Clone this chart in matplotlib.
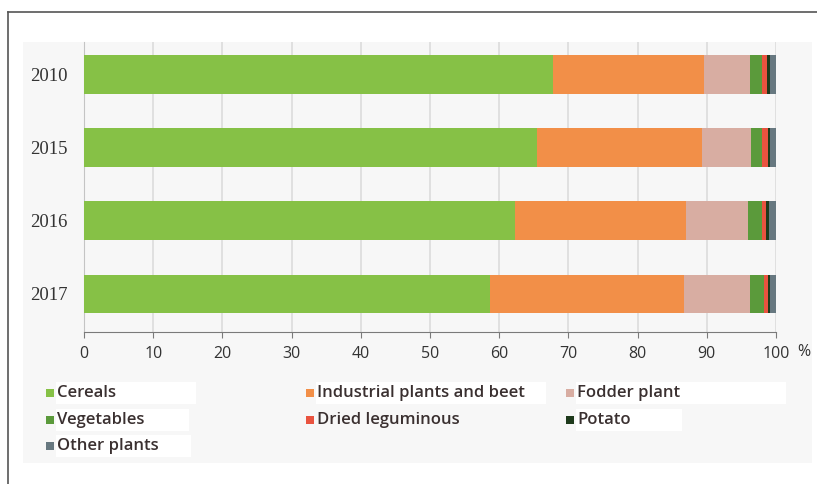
import matplotlib.pyplot as plt
from matplotlib.patches import Rectangle
from matplotlib.lines import Line2D

# Share of sown area by crop group, %
years = ['2010', '2015', '2016', '2017']
crops = ['Cereals', 'Industrial plants and beet', 'Fodder plant', 'Vegetables',
         'Dried leguminous', 'Potato', 'Other plants']
cereals = [67.8, 65.5, 62.3, 58.7]
industrial = [21.8, 23.8, 24.7, 28.0]
fodder = [6.7, 7.1, 8.9, 9.5]
vegetables = [1.7, 1.6, 2.1, 2.1]
dried_leguminous = [0.7, 0.8, 0.6, 0.5]
potato = [0.4, 0.3, 0.4, 0.3]
other = [0.9, 0.9, 1.0, 0.9]
series = [cereals, industrial, fodder, vegetables, dried_leguminous, potato, other]
colors = ['#86c146', '#f28f48', '#d8ada2', '#5b9a3b', '#e9533f', '#1e3a1c', '#677880']
xticks = list(range(0, 101, 10))

W, H = 817, 484
fig = plt.figure(figsize=(W / 100, H / 100), dpi=100)
fig.patch.set_facecolor('white')


def fx(px):
    return px / W


def fy(py):
    return 1 - py / H


# light panel behind chart and legend
fig.patches.append(Rectangle((fx(23), fy(463)), fx(812 - 23), (463 - 42) / H,
                             transform=fig.transFigure, facecolor='#f7f7f7',
                             edgecolor='none', zorder=-5))
# outer frame, top and left
fig.add_artist(Line2D([fx(8), 1], [fy(12), fy(12)], transform=fig.transFigure,
                      color='#555555', lw=1.2))
fig.add_artist(Line2D([fx(8), fx(8)], [0, fy(12)], transform=fig.transFigure,
                      color='#555555', lw=1.2))

ax = fig.add_axes([fx(84), fy(332), fx(776 - 84), (332 - 42) / H])
ax.set_facecolor('none')

ypos = list(range(len(years)))
left = [0.0] * len(years)
for vals, col, name in zip(series, colors, crops):
    ax.barh(ypos, vals, left=left, height=0.53, color=col, label=name, zorder=3)
    left = [a + b for a, b in zip(left, vals)]

tick_font = dict(family='Open Sans', fontsize=11.5, color='#333333')
ax.set_xlim(0, 100)
ax.set_ylim(3.52, -0.44)
ax.set_xticks(xticks)
ax.set_xticklabels([str(v) for v in xticks], **tick_font)
ax.annotate('%', xy=(100, 0), xycoords=('data', 'axes fraction'), xytext=(15, -9),
            textcoords='offset points', ha='left', va='top', annotation_clip=False,
            **tick_font)
ax.set_yticks(ypos)
ax.set_yticklabels(years, family='Liberation Serif', fontsize=13.5, color='#333333')

ax.grid(axis='x', color='#dcdcdc', lw=1.2, zorder=0)
for s in ['top', 'right']:
    ax.spines[s].set_visible(False)
ax.spines['left'].set_color('#c4c4c4')
ax.spines['bottom'].set_color('#7a7a7a')
ax.tick_params(axis='x', length=4, color='#7a7a7a', pad=6)
ax.tick_params(axis='y', length=0, pad=12)

# legend drawn as colored squares with text on white boxes
legend_items = [
    (50, 393, 0, 196), (310, 393, 1, 546), (570, 393, 2, 786),
    (50, 420, 3, 189), (310, 420, 4, None), (570, 420, 5, 682),
    (50, 446, 6, 191),
]
for x, y, i, box_end in legend_items:
    if box_end is not None:
        fig.patches.append(Rectangle((fx(x + 6), fy(y + 11)), fx(box_end - x - 6), 22 / H,
                                     transform=fig.transFigure, facecolor='white',
                                     edgecolor='none', zorder=-4))
    fig.patches.append(Rectangle((fx(x - 4), fy(y + 4)), fx(8), 8 / H,
                                 transform=fig.transFigure, facecolor=colors[i],
                                 edgecolor='none', zorder=2))
    fig.text(fx(x + 7), fy(y), crops[i], family='Open Sans', weight='semibold',
             fontsize=12, color='#3a3030', va='center', ha='left', zorder=3)

fig.savefig('out.png', dpi=100)
